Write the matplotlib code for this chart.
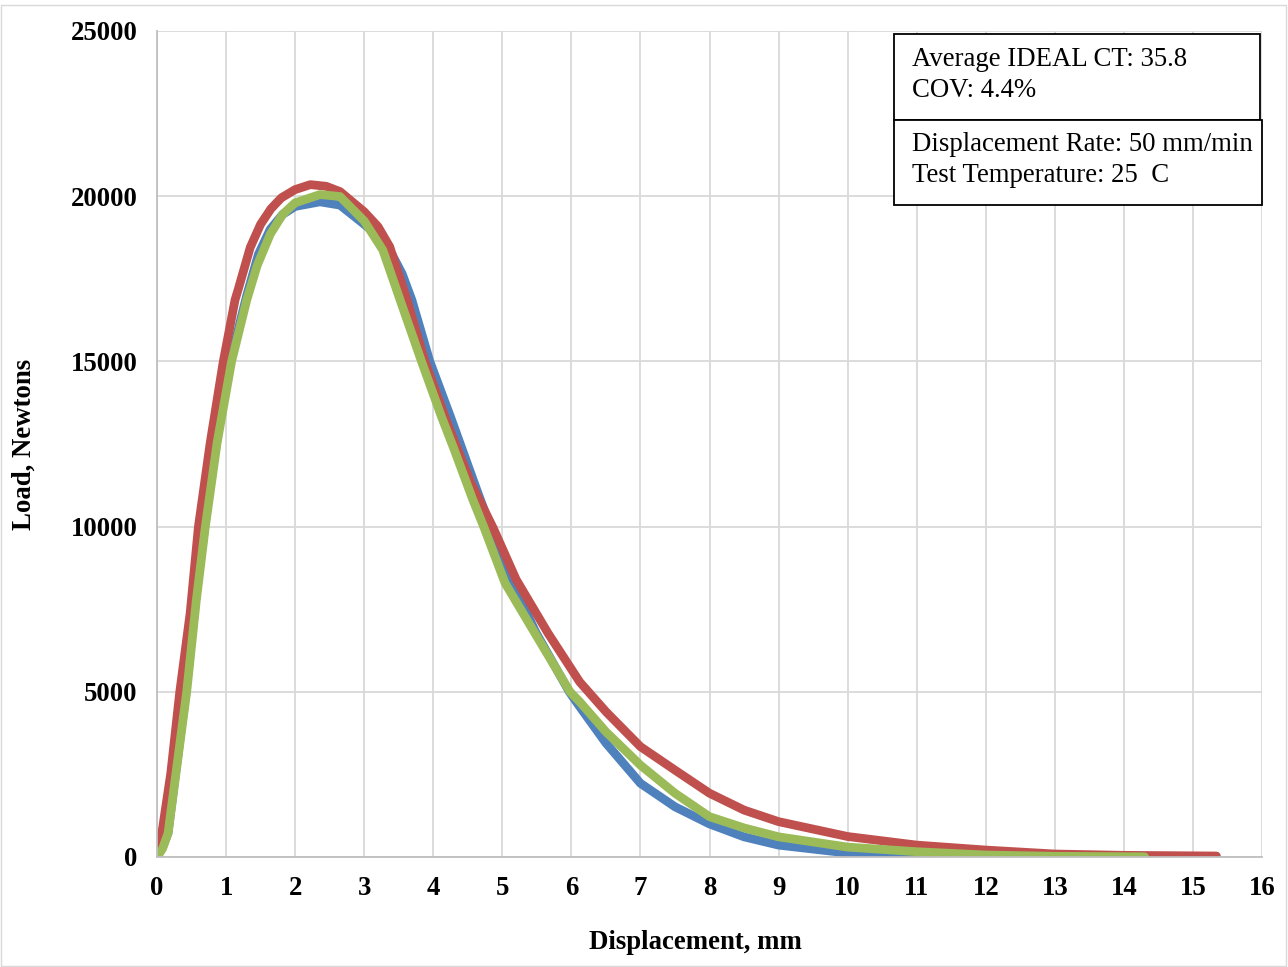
import matplotlib.pyplot as plt
from matplotlib.patches import Rectangle

# values (displacement in mm, load in N)
blue_disp = [0, 0.08, 0.16, 0.27, 0.42, 0.56, 0.69, 0.86, 1.06, 1.30, 1.47, 1.64, 1.82, 2.0, 2.36,
             2.65, 3.0, 3.20, 3.40, 3.55, 3.69, 3.95, 4.25, 4.65, 4.82, 5.08, 5.49, 5.97, 6.12,
             6.5, 7.0, 7.5, 8.0, 8.5, 9.0, 10.0, 11.0, 12.0, 13.5]
blue_load = [0, 300, 720, 2540, 5000, 7780, 10000, 12530, 15000, 17000, 18250, 19000, 19450, 19690, 19830,
             19730, 19150, 18800, 18250, 17650, 16860, 15000, 13320, 11000, 10050, 8600, 6780, 5000, 4550,
             3450, 2230, 1520, 1000, 610, 360, 120, 20, 5, 0]

red_disp = [0, 0.07, 0.20, 0.33, 0.48, 0.60, 0.77, 0.96, 1.13, 1.18, 1.35, 1.50, 1.65, 1.80, 2.0,
            2.22, 2.45, 2.65, 3.0, 3.20, 3.37, 3.62, 3.88, 4.20, 4.55, 4.87, 5.20, 5.66, 6.12,
            6.50, 7.0, 7.5, 8.0, 8.5, 9.0, 10.0, 11.0, 12.0, 13.0, 14.0, 15.34]
red_load = [0, 720, 2540, 5000, 7380, 10000, 12530, 15000, 16860, 17210, 18450, 19150, 19620, 19950, 20200,
            20350, 20300, 20140, 19530, 19080, 18470, 16860, 15000, 13150, 11300, 9950, 8400, 6780, 5300,
            4400, 3340, 2630, 1930, 1420, 1070, 620, 360, 210, 90, 50, 30]

green_disp = [0, 0.08, 0.16, 0.275, 0.43, 0.57, 0.70, 0.87, 1.08, 1.30, 1.45, 1.64, 1.82, 2.0, 2.36,
              2.65, 3.0, 3.27, 3.52, 3.83, 4.12, 4.30, 4.57, 4.73, 5.04, 5.47, 5.98, 6.12,
              6.5, 7.0, 7.5, 8.0, 8.5, 9.0, 10.0, 11.0, 12.0, 13.0, 14.3]
green_load = [0, 250, 720, 2540, 5000, 7780, 10000, 12530, 15000, 16860, 17900, 18850, 19450, 19800, 20050,
              19990, 19250, 18370, 16860, 15000, 13320, 12350, 10830, 10000, 8290, 6780, 5000, 4700,
              3790, 2780, 1930, 1220, 880, 610, 300, 160, 60, 20, 5]

x_ticks = list(range(0, 17))
y_ticks = [0, 5000, 10000, 15000, 20000, 25000]

info_top = "Average IDEAL CT: 35.8\nCOV: 4.4%"
info_bottom = "Displacement Rate: 50 mm/min\nTest Temperature: 25  C"

plt.rcParams["font.family"] = ["Liberation Serif", "DejaVu Serif"]

fig = plt.figure(figsize=(12.88, 9.67), dpi=100)
ax = fig.add_axes([157 / 1288, 1 - 857 / 967, 1105 / 1288, 826 / 967])

lw = 6.3
style = dict(lw=lw, solid_capstyle="round", solid_joinstyle="round")
ax.plot(blue_disp, blue_load, color="#4F81BD", **style)
ax.plot(red_disp, red_load, color="#C0504D", **style)
ax.plot(green_disp, green_load, color="#9BBB59", **style)

ax.set_xlim(0, 16)
ax.set_ylim(0, 25000)
ax.set_xticks(x_ticks)
ax.set_yticks(y_ticks)
ax.tick_params(length=0, labelsize=19.3, pad=14)
for lab in ax.get_xticklabels() + ax.get_yticklabels():
    lab.set_fontweight("bold")

ax.grid(True, color="#D9D9D9", lw=1.3)
ax.set_axisbelow(True)
for side in ["top", "right"]:
    ax.spines[side].set_visible(False)
for side in ["left", "bottom"]:
    ax.spines[side].set_color("#BFBFBF")
    ax.spines[side].set_linewidth(1.3)

ax.set_xlabel("Displacement, mm", fontsize=19.3, fontweight="bold")
ax.set_ylabel("Load, Newtons", fontsize=19.3, fontweight="bold")
ax.xaxis.set_label_coords(538 / 1105, -(930 - 857) / 826)
ax.yaxis.set_label_coords(-(157 - 37) / 1105, 0.5)

# annotation boxes
fig.patches.append(Rectangle((894 / 1288, 1 - 120 / 967), 366 / 1288, 86 / 967,
                             transform=fig.transFigure, fill=True, facecolor="white",
                             edgecolor="black", lw=1.3))
fig.patches.append(Rectangle((894 / 1288, 1 - 205 / 967), 368 / 1288, 85 / 967,
                             transform=fig.transFigure, fill=True, facecolor="white",
                             edgecolor="black", lw=1.3))
fig.text(912 / 1288, 1 - 75 / 967, info_top, fontsize=19.3, va="center", ha="left", linespacing=1.32)
fig.text(912 / 1288, 1 - 160 / 967, info_bottom, fontsize=19.3, va="center", ha="left", linespacing=1.32)

# outer chart border
fig.patches.append(Rectangle((1 / 1288, 1 / 967), 1285 / 1288, 961 / 967,
                             transform=fig.transFigure, fill=False, edgecolor="#D9D9D9", lw=1))

fig.savefig("out.png", dpi=100)
plt.close(fig)
